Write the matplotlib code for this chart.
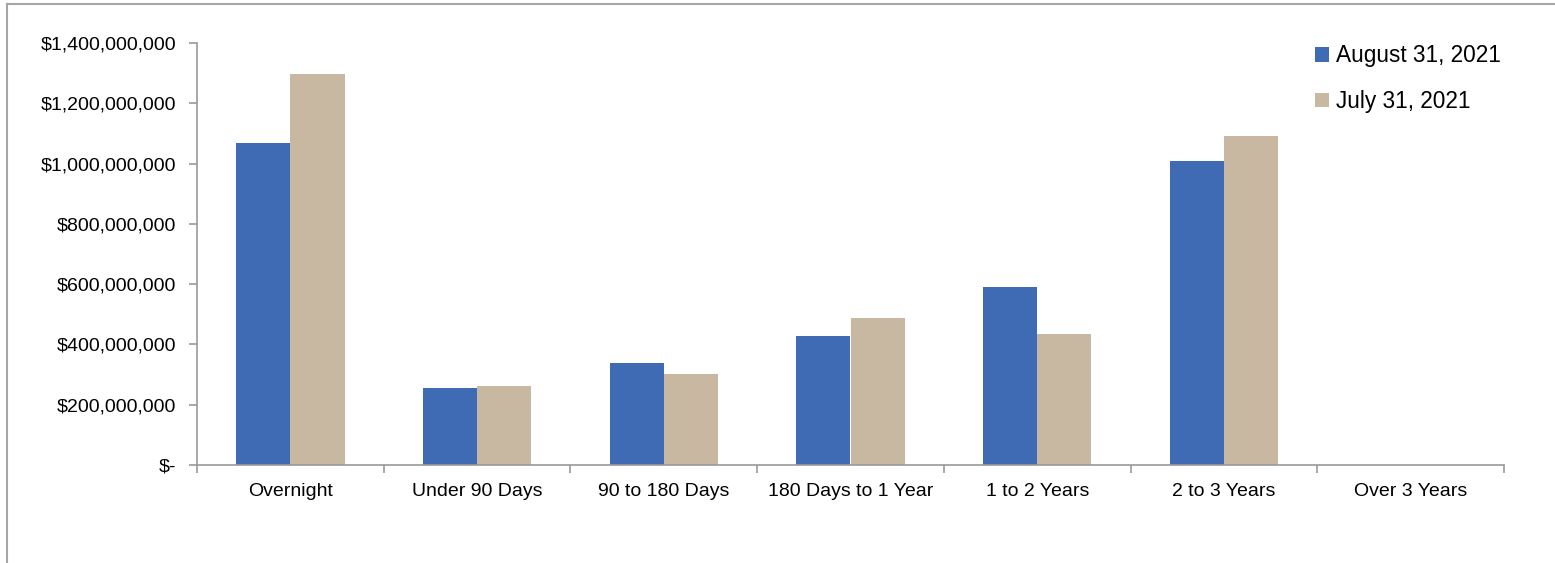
import numpy as np
import matplotlib
matplotlib.use("Agg")
from matplotlib import pyplot as plt
from matplotlib.lines import Line2D
from matplotlib.ticker import FuncFormatter

plt.rcParams['font.family'] = ['Liberation Sans', 'DejaVu Sans']

# data
categories = ["Overnight", "Under 90 Days", "90 to 180 Days", "180 Days to 1 Year",
              "1 to 2 Years", "2 to 3 Years", "Over 3 Years"]
aug_2021 = [1068e6, 256e6, 340e6, 428e6, 590e6, 1010e6, 0]
jul_2021 = [1296e6, 263e6, 302e6, 489e6, 435e6, 1090e6, 0]
series_names = ["August 31, 2021", "July 31, 2021"]
colors = ["#3e6bb4", "#c8b8a2"]

fig = plt.figure(figsize=(15.55, 5.63), dpi=100)
ax = fig.add_axes([197/1555, 1 - 465/563, (1504 - 197)/1555, (465 - 43)/563])

x = np.arange(len(categories))
w = 0.29
ax.bar(x - w/2, aug_2021, w, color=colors[0], label=series_names[0])
ax.bar(x + w/2, jul_2021, w, color=colors[1], label=series_names[1])

ax.set_xlim(-0.5, len(categories) - 0.5)
ax.set_ylim(0, 1.4e9)
ax.set_yticks(np.arange(0, 1.4e9 + 1, 2e8))

def money(v, pos):
    if v == 0:
        return "$-"
    return "${:,.0f}".format(v)

ax.yaxis.set_major_formatter(FuncFormatter(money))

# category labels centred, ticks on the boundaries
ax.set_xticks(x)
ax.set_xticklabels(categories, fontsize=14)
ax.tick_params(axis='x', length=0, pad=13)
ax.set_xticks(np.arange(-0.5, len(categories)), minor=True)
ax.tick_params(axis='x', which='minor', length=6, color='#999999', width=1.2)
ax.tick_params(axis='y', length=6, color='#999999', width=1.2, labelsize=14, pad=9)

for side in ['top', 'right']:
    ax.spines[side].set_visible(False)
for side in ['left', 'bottom']:
    ax.spines[side].set_color('#999999')
    ax.spines[side].set_linewidth(1.2)

leg = ax.legend(loc='upper left', bbox_to_anchor=(1295/1555, 1 - 24/563),
                bbox_transform=fig.transFigure, frameon=False, fontsize=16.3,
                handlelength=0.6, handleheight=0.6, handletextpad=0.3,
                labelspacing=1.0)

# outer chart border (left and top only visible)
fig.add_artist(Line2D([7/1555, 7/1555], [0, 1 - 4/563], color='#a6a6a6', lw=1.5))
fig.add_artist(Line2D([7/1555, 1], [1 - 4/563, 1 - 4/563], color='#a6a6a6', lw=1.5))

fig.savefig("out.png", dpi=100)
